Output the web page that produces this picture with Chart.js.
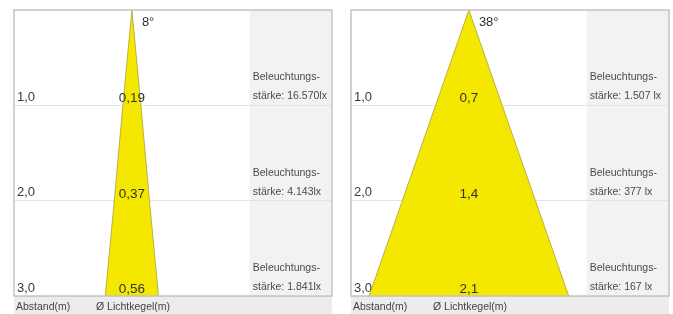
<!DOCTYPE html>
<html>
<head>
<meta charset="utf-8">
<script src="https://cdn.jsdelivr.net/npm/chart.js@4.4.1/dist/chart.umd.min.js"></script>
<style>
    html, body { margin: 0; padding: 0; background: #fff; }
    body { width: 673px; height: 314px; position: relative; overflow: hidden; }
    .panel { position: absolute; top: 8px; width: 322px; height: 306px; }
    #p1 { left: 12px; }
    #p2 { left: 349px; }
</style>
</head>
<body>
<div class="panel" id="p1"><canvas id="c1" width="322" height="306"></canvas></div>
<div class="panel" id="p2"><canvas id="c2" width="322" height="306"></canvas></div>
<script>
// distance from the lamp (m)
const distances = [1, 2, 3];

// left lamp: 8 degree beam
const angleLeft = '8°';
const coneLeft = [0.19, 0.37, 0.56];
const luxLeft = ['16.570lx', '4.143lx', '1.841lx'];

// right lamp: 38 degree beam
const angleRight = '38°';
const coneRight = [0.7, 1.4, 2.1];
const luxRight = ['1.507 lx', '377 lx', '167 lx'];

const luxTitle = 'Beleuchtungs-';
const luxPrefix = 'stärke: ';
const titleDistance = 'Abstand(m)';
const titleCone = 'Ø Lichtkegel(m)';

const X_MIN = -1.24;
const X_MAX = 2.105;
const GRAY_FROM = 1.24;
const FONT = '"Liberation Sans", Arial, Helvetica, sans-serif';

function fmt(v) {
    return String(v).replace('.', ',');
}

function conePoints(diam) {
    const left = distances.map((d, i) => ({ x: -diam[i] / 2, y: d })).reverse();
    const right = distances.map((d, i) => ({ x: diam[i] / 2, y: d }));
    return left.concat([{ x: 0, y: 0 }], right);
}

const coneLabels = {
    id: 'coneLabels',
    beforeDraw(chart, args, opts) {
        const { ctx, chartArea: a } = chart;
        const gx = chart.scales.x.getPixelForValue(GRAY_FROM);
        ctx.save();
        ctx.fillStyle = '#ffffff';
        ctx.fillRect(a.left, a.top, a.width, a.height);
        ctx.fillStyle = '#f2f2f2';
        ctx.fillRect(gx, a.top, a.right - gx, a.height);
        ctx.fillStyle = '#ececec';
        ctx.fillRect(a.left, a.bottom, a.width, chart.height - a.bottom);

        ctx.fillStyle = '#444';
        ctx.font = '10.5px ' + FONT;
        ctx.textAlign = 'left';
        ctx.textBaseline = 'alphabetic';
        ctx.fillText(titleDistance, a.left + 2, chart.height - 4);
        ctx.fillText(titleCone, a.left + 82, chart.height - 4);
        ctx.restore();
    },
    afterDatasetsDraw(chart, args, opts) {
        const { ctx, chartArea: a, scales: { x, y } } = chart;
        const cx = x.getPixelForValue(0);
        const gx = x.getPixelForValue(GRAY_FROM);
        ctx.save();
        ctx.textBaseline = 'alphabetic';

        ctx.fillStyle = '#333';
        ctx.font = '13px ' + FONT;
        ctx.textAlign = 'left';
        ctx.fillText(opts.angle, cx + 10, a.top + 16);

        distances.forEach((d, i) => {
            const py = y.getPixelForValue(d);
            ctx.fillStyle = '#333';
            ctx.font = '13.5px ' + FONT;
            ctx.textAlign = 'center';
            ctx.fillText(fmt(opts.diam[i]), cx, py - 3);

            ctx.fillStyle = '#4a4a4a';
            ctx.font = '10.5px ' + FONT;
            ctx.textAlign = 'left';
            ctx.fillText(luxTitle, gx + 3, py - 25);
            ctx.fillText(luxPrefix + opts.lux[i], gx + 3, py - 6);
        });
        ctx.restore();
    },
    afterDraw(chart) {
        const { ctx, chartArea: a } = chart;
        ctx.save();
        ctx.strokeStyle = '#c4c4c4';
        ctx.lineWidth = 1.5;
        ctx.strokeRect(a.left, a.top, a.width, a.height);
        ctx.restore();
    }
};

function makeChart(id, diam, lux, angle) {
    return new Chart(document.getElementById(id), {
        type: 'scatter',
        data: {
            datasets: [{
                data: conePoints(diam),
                showLine: true,
                tension: 0,
                pointRadius: 0,
                borderWidth: 1,
                borderColor: 'rgba(170, 160, 60, 0.8)',
                backgroundColor: '#f4e800',
                fill: { value: 3 }
            }]
        },
        options: {
            responsive: false,
            animation: false,
            layout: { padding: { left: 2, top: 2, right: 2, bottom: 18 } },
            plugins: {
                legend: { display: false },
                tooltip: { enabled: false },
                coneLabels: { diam: diam, lux: lux, angle: angle }
            },
            scales: {
                x: { type: 'linear', min: X_MIN, max: X_MAX, display: false },
                y: {
                    type: 'linear',
                    min: 0,
                    max: 3,
                    reverse: true,
                    afterFit: s => {
                        s.width = 0;
                        s.paddingTop = 0;
                        s.paddingBottom = 0;
                    },
                    border: { display: false },
                    grid: { color: '#e3e3e3', drawTicks: false },
                    ticks: {
                        stepSize: 1,
                        mirror: true,
                        padding: 3,
                        labelOffset: -8,
                        color: '#3a3a3a',
                        font: { family: FONT, size: 13 },
                        callback: v => (v === 0 ? null : v.toFixed(1).replace('.', ','))
                    }
                }
            }
        },
        plugins: [coneLabels]
    });
}

makeChart('c1', coneLeft, luxLeft, angleLeft);
makeChart('c2', coneRight, luxRight, angleRight);
</script>
</body>
</html>
